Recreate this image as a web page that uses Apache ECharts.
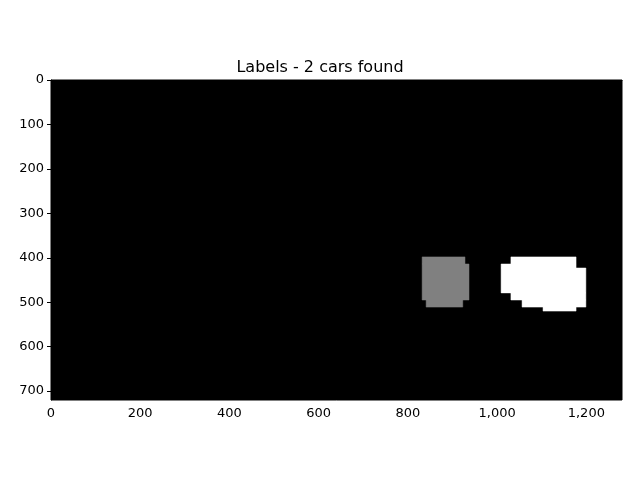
<!doctype html>
<html>
<head>
<meta charset="utf-8">
<script src="https://cdn.jsdelivr.net/npm/echarts@6/dist/echarts.min.js"></script>
<style>
    html, body {margin: 0; padding: 0; background: #fff;}
    #chart {width: 640px; height: 480px;}
</style>
</head>
<body>
<div id="chart"></div>
<script>
    // label image 1280x720, blobs as rectangles: [x0, x1, y0, y1, label]
    var imgWidth = 1280, imgHeight = 720;
    var xTicks = [0, 200, 400, 600, 800, 1000, 1200];
    var yTicks = [0, 100, 200, 300, 400, 500, 600, 700];
    var car1 = [
        [832, 928, 398, 414, 1],
        [832, 937, 414, 495, 1],
        [841, 923, 495, 511, 1]
    ];
    var car2 = [
        [1031, 1177, 398, 414, 2],
        [1009, 1177, 414, 423, 2],
        [1009, 1199, 423, 479, 2],
        [1031, 1199, 479, 495, 2],
        [1056, 1199, 495, 511, 2],
        [1103, 1177, 511, 520, 2]
    ];
    var labelColors = ['#000000', '#808080', '#ffffff'];

    var myChart = echarts.init(document.getElementById('chart'));
    var axisLabel = {color: '#000', fontSize: 13, fontFamily: 'DejaVu Sans', margin: 7};
    var option = {
        animation: false,
        title: {
            text: 'Labels - 2 cars found',
            left: 'center', top: 55,
            textStyle: {color: '#000', fontSize: 16, fontWeight: 'normal', fontFamily: 'DejaVu Sans'}
        },
        grid: {left: 51, right: 18, top: 80, bottom: 80, show: true,
               backgroundColor: '#000', borderColor: '#000', borderWidth: 1},
        xAxis: {
            type: 'value', min: 0, max: imgWidth, interval: 200,
            axisLine: {show: true, lineStyle: {color: '#000'}},
            axisTick: {show: true, length: 4, lineStyle: {color: '#000'}},
            splitLine: {show: false},
            axisLabel: axisLabel
        },
        yAxis: {
            type: 'value', min: 0, max: imgHeight, interval: 100, inverse: true,
            axisLine: {show: true, lineStyle: {color: '#000'}},
            axisTick: {show: true, length: 4, lineStyle: {color: '#000'}},
            splitLine: {show: false},
            axisLabel: axisLabel
        },
        series: [{
            type: 'custom',
            data: car1.concat(car2),
            renderItem: function (params, api) {
                var p0 = api.coord([api.value(0), api.value(2)]);
                var p1 = api.coord([api.value(1), api.value(3)]);
                return {
                    type: 'rect',
                    shape: {x: p0[0], y: p0[1], width: p1[0] - p0[0], height: p1[1] - p0[1]},
                    style: {fill: labelColors[api.value(4)], stroke: labelColors[api.value(4)], lineWidth: 0.5}
                };
            }
        }]
    };
    myChart.setOption(option);
</script>
</body>
</html>
